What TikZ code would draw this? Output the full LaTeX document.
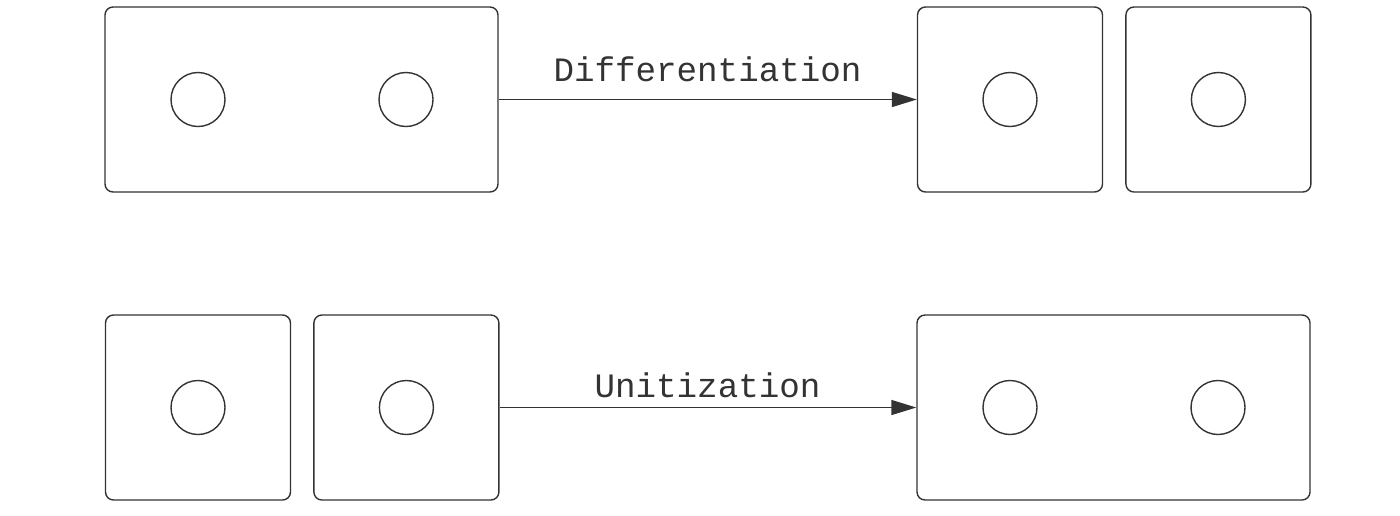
\documentclass[tikz,border=0pt]{standalone}
\usepackage{fontspec}
\setmonofont{Liberation Mono}
\usetikzlibrary{positioning,arrows.meta}
\definecolor{ink}{HTML}{333333}
\begin{document}
\begin{tikzpicture}[x=0.5pt, y=-0.5pt, ink, line width=0.7pt,
    >={Triangle[length=12.5pt, width=7.5pt]},
    wide/.style = {draw, rounded corners=4pt, minimum width=196.5pt, minimum height=92.5pt, inner sep=0pt},
    cell/.style = {draw, rounded corners=4pt, minimum size=92.5pt, inner sep=0pt},
    dot/.style = {draw, circle, minimum size=27pt, inner sep=0pt},
    word/.style = {anchor=base, font=\ttfamily\fontsize{17.1}{20}\selectfont, text=ink}]
        \useasboundingbox (0,0) rectangle (1400,515);
        % top row
        \node[wide] (1) at (301.5,99.5) {};
        \node[dot] (2) at (198,99.5) {};
        \node[dot] (3) at (406,99.5) {};
        \node[cell] (4) at (1010,99.5) {};
        \node[cell] (5) [right=11pt of 4] {};
        \node[dot] (6) at (4) {};
        \node[dot] (7) at (5) {};
        \node[word] (8) at (707.5,81) {Differentiation};

        % bottom row
        \node[cell] (9) at (198,407.5) {};
        \node[cell] (10) [right=11pt of 9] {};
        \node[dot] (11) at (9) {};
        \node[dot] (12) at (10) {};
        \node[wide] (13) at (1113.5,407.5) {};
        \node[dot] (14) at (1010,407.5) {};
        \node[dot] (15) at (1218,407.5) {};
        \node[word] (16) at (707.5,397) {Unitization};

        \draw[->] (1) -- (4);
        \draw[->] (10) -- (13);
    \end{tikzpicture}
\end{document}
